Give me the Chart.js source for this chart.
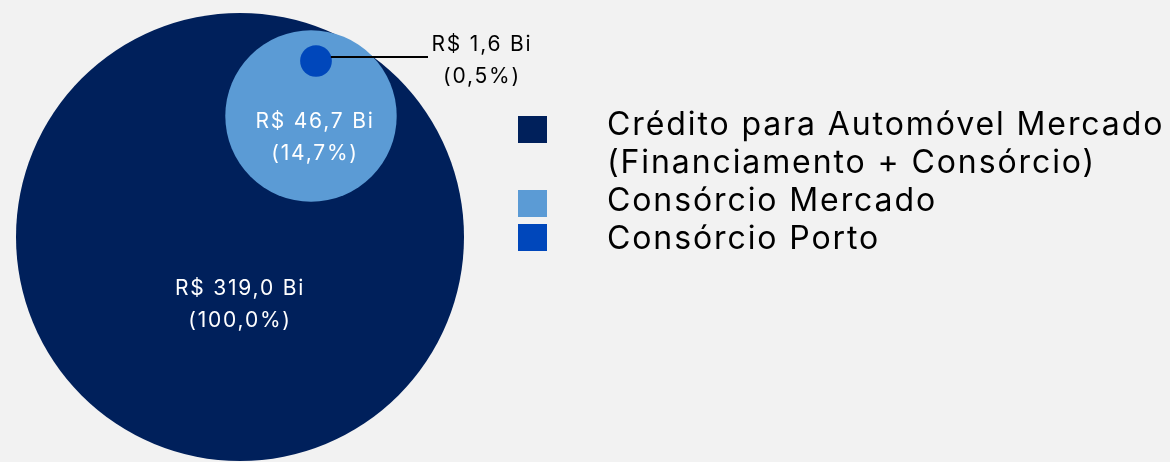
<!DOCTYPE html>
<html lang="pt-BR">
<head>
<meta charset="utf-8">
<title>Crédito para Automóvel — Consórcio</title>
<script src="https://cdn.jsdelivr.net/npm/chart.js@4.4.1/dist/chart.umd.min.js"></script>
<style>
  html, body { margin: 0; padding: 0; background: #F2F2F2; }
  #wrap { position: relative; width: 1170px; height: 462px; overflow: hidden; }
</style>
</head>
<body>
<div id="wrap">
  <canvas id="bubble-chart" width="1170" height="462"></canvas>
</div>
<script>
// ── DATA ──
const categories = [
    ['Crédito para Automóvel Mercado', '(Financiamento + Consórcio)'],
    ['Consórcio Mercado'],
    ['Consórcio Porto']
];
const volumesBi = [319.0, 46.7, 1.6];   // R$ bilhões
const sharesPct = [100.0, 14.7, 0.5];   // % do crédito para automóvel

// Bubble centres in chart units (x 0–117, y 0–46.2, top-down)
const centerX = [24.0, 31.1, 31.6];
const centerY = [23.7, 11.6, 6.1];

// ── STYLE ──
const COLORS      = ['#00205B', '#5B9BD5', '#0047BB'];
const FONT_FAMILY = "Inter, 'Noto Sans', 'DejaVu Sans', sans-serif";
const BASE_RADIUS = 224;                 // px radius of the 100% bubble
const LABEL_FONT  = `400 21px ${FONT_FAMILY}`;
const LABEL_LINE  = 32;
const LABEL_TRACK = '1.8px';

// Label placement relative to each bubble centre
const LABEL_STYLE = [
    { dx: 0,   dy: 58,  color: '#FFFFFF' },
    { dx: 4,   dy: 12,  color: '#FFFFFF' },
    { dx: 166, dy: -10, color: '#000000', leader: { y: -4, toX: 112 } }
];

const LEGEND = {
    swatchX: 518, swatchW: 29, swatchH: 27,
    swatchTops: [116, 190, 224],
    textX: 607, firstBaseline: 135, lineHeight: 38,
    font: `400 32px ${FONT_FAMILY}`, track: '1.9px', color: '#000000'
};

const fmt = (v) => v.toFixed(1).replace('.', ',');

// ── PLUGINS ──
const bubbleLabels = {
    id: 'bubbleLabels',
    afterDatasetsDraw(chart) {
        const ctx  = chart.ctx;
        const meta = chart.getDatasetMeta(0);
        ctx.save();
        ctx.font = LABEL_FONT;
        ctx.letterSpacing = LABEL_TRACK;
        ctx.textAlign = 'center';
        ctx.textBaseline = 'alphabetic';
        meta.data.forEach((pt, i) => {
            const s = LABEL_STYLE[i];
            const lines = ['R$ ' + fmt(volumesBi[i]) + ' Bi', '(' + fmt(sharesPct[i]) + '%)'];
            ctx.fillStyle = s.color;
            lines.forEach((t, k) => ctx.fillText(t, pt.x + s.dx, pt.y + s.dy + k * LABEL_LINE));

            if (s.leader) {
                const r = pt.options.radius;
                ctx.strokeStyle = '#000000';
                ctx.lineWidth = 2;
                ctx.beginPath();
                ctx.moveTo(pt.x + r - 1, pt.y + s.leader.y);
                ctx.lineTo(pt.x + s.leader.toX, pt.y + s.leader.y);
                ctx.stroke();
            }
        });
        ctx.restore();
    }
};

const sideLegend = {
    id: 'sideLegend',
    afterDraw(chart) {
        const ctx = chart.ctx;
        ctx.save();
        ctx.font = LEGEND.font;
        ctx.letterSpacing = LEGEND.track;
        ctx.textAlign = 'left';
        ctx.textBaseline = 'alphabetic';
        let line = 0;
        categories.forEach((lines, i) => {
            ctx.fillStyle = COLORS[i];
            ctx.fillRect(LEGEND.swatchX, LEGEND.swatchTops[i], LEGEND.swatchW, LEGEND.swatchH);
            ctx.fillStyle = LEGEND.color;
            lines.forEach((t) => {
                ctx.fillText(t, LEGEND.textX, LEGEND.firstBaseline + line * LEGEND.lineHeight);
                line++;
            });
        });
        ctx.restore();
    }
};

// ── CHART ──
const maxVolume = Math.max(...volumesBi);

new Chart(document.getElementById('bubble-chart'), {
    type: 'bubble',
    data: {
        datasets: [{
            label: 'Volume',
            data: volumesBi.map((v, i) => ({
                x: centerX[i],
                y: centerY[i],
                r: Math.sqrt(v / maxVolume) * BASE_RADIUS
            })),
            backgroundColor: COLORS,
            borderWidth: 0,
            hoverBorderWidth: 0,
            clip: false
        }]
    },
    options: {
        responsive: false,
        devicePixelRatio: 1,
        animation: false,
        layout: { padding: 0, autoPadding: false },
        plugins: {
            legend:  { display: false },
            tooltip: { enabled: false }
        },
        scales: {
            x: { type: 'linear', min: 0, max: 117,  display: false },
            y: { type: 'linear', min: 0, max: 46.2, reverse: true, display: false }
        }
    },
    plugins: [bubbleLabels, sideLegend]
});
</script>
</body>
</html>
